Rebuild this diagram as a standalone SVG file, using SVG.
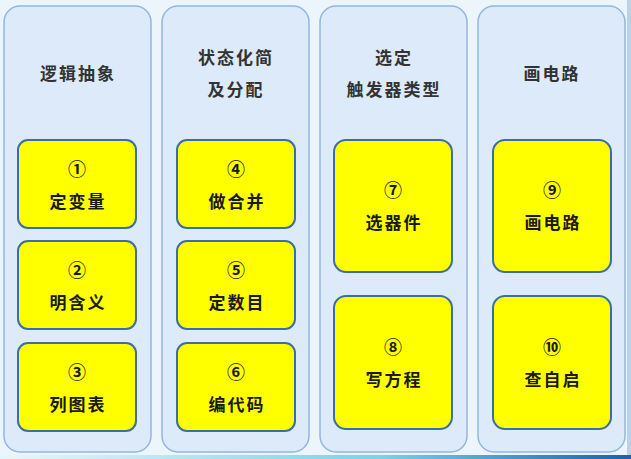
<svg xmlns="http://www.w3.org/2000/svg" width="631" height="459" viewBox="0 0 631 459">
<defs>
<linearGradient id="bot" x1="0" y1="0" x2="1" y2="0">
<stop offset="0" stop-color="#e8f6fb"/>
<stop offset="0.6" stop-color="#7fd0e8"/>
<stop offset="1" stop-color="#1f5fa8"/>
</linearGradient>
<style>
.col{fill:#dceaf9;stroke:#93b6df;stroke-width:1.5}
.node{fill:#ffff00;stroke:#3b6fa3;stroke-width:2}
.title{font-family:"Noto Sans CJK SC","Noto Sans",sans-serif;font-size:17px;font-weight:bold;fill:#333333;text-anchor:middle;letter-spacing:2px}
.num{font-family:"Noto Sans CJK SC","DejaVu Sans",sans-serif;font-size:18px;font-weight:bold;fill:#1a1a1a;text-anchor:middle}
.lbl{font-family:"Noto Sans CJK SC","Noto Sans",sans-serif;font-size:17px;font-weight:bold;fill:#1a1a1a;text-anchor:middle;letter-spacing:2px}
</style>
</defs>
<rect x="0" y="0" width="631" height="459" fill="#ecf4fc"/>
<rect x="0" y="455" width="631" height="4" fill="url(#bot)"/>
<rect x="627" y="0" width="4" height="459" fill="#2a66ad" opacity="0.25"/>

<g id="col1">
<rect class="col" x="4" y="6" width="147" height="446" rx="16"/>
<text class="title" x="78" y="80">逻辑抽象</text>
</g>
<g id="col2">
<rect class="col" x="162" y="6" width="147" height="446" rx="16"/>
<text class="title" x="236" y="64">状态化简</text>
<text class="title" x="236" y="96">及分配</text>
</g>
<g id="col3">
<rect class="col" x="320" y="6" width="147" height="446" rx="16"/>
<text class="title" x="394" y="64">选定</text>
<text class="title" x="394" y="96">触发器类型</text>
</g>
<g id="col4">
<rect class="col" x="478" y="6" width="147" height="446" rx="16"/>
<text class="title" x="552" y="80">画电路</text>
</g>

<g id="n1"><rect class="node" x="18" y="140" width="118" height="88" rx="10"/><text class="num" x="77" y="176">①</text><text class="lbl" x="78" y="208">定变量</text></g>
<g id="n2"><rect class="node" x="18" y="241" width="118" height="88" rx="10"/><text class="num" x="77" y="277">②</text><text class="lbl" x="78" y="309">明含义</text></g>
<g id="n3"><rect class="node" x="18" y="343" width="118" height="88" rx="10"/><text class="num" x="77" y="379">③</text><text class="lbl" x="78" y="411">列图表</text></g>

<g id="n4"><rect class="node" x="177" y="140" width="118" height="88" rx="10"/><text class="num" x="236" y="176">④</text><text class="lbl" x="237" y="208">做合并</text></g>
<g id="n5"><rect class="node" x="177" y="241" width="118" height="88" rx="10"/><text class="num" x="236" y="277">⑤</text><text class="lbl" x="237" y="309">定数目</text></g>
<g id="n6"><rect class="node" x="177" y="343" width="118" height="88" rx="10"/><text class="num" x="236" y="379">⑥</text><text class="lbl" x="237" y="411">编代码</text></g>

<g id="n7"><rect class="node" x="334" y="140" width="118" height="132" rx="12"/><text class="num" x="393" y="197">⑦</text><text class="lbl" x="394" y="229">选器件</text></g>
<g id="n8"><rect class="node" x="334" y="296" width="118" height="133" rx="12"/><text class="num" x="393" y="354">⑧</text><text class="lbl" x="394" y="386">写方程</text></g>

<g id="n9"><rect class="node" x="493" y="140" width="118" height="132" rx="12"/><text class="num" x="552" y="197">⑨</text><text class="lbl" x="553" y="229">画电路</text></g>
<g id="n10"><rect class="node" x="493" y="296" width="118" height="133" rx="12"/><text class="num" x="552" y="354">⑩</text><text class="lbl" x="553" y="386">查自启</text></g>

<g id="connectors"></g>
</svg>
